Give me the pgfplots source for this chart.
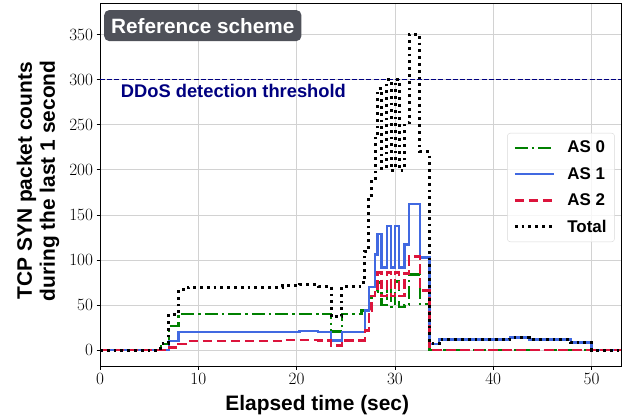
\documentclass[border=0pt]{standalone}
\usepackage{pgfplots}
\pgfplotsset{compat=1.18}
\usepackage{pgfplotstable}
\usepackage{fontspec}
\setmainfont{Liberation Sans}
\usetikzlibrary{calc}

\definecolor{asgreen}{HTML}{008000}
\definecolor{asblue}{HTML}{4169E1}
\definecolor{asred}{HTML}{DC143C}
\definecolor{thr}{HTML}{000080}
\definecolor{boxgray}{HTML}{4F5159}

% step data: time (s), AS 0, AS 1, AS 2, total
\pgfplotstableread{
t     a0   a1    a2    tot
0     0    0     0     0
6.2   7    0     0     7
7.0   27   10    3     40
8.0   40   20    7     67
9.0   40   20    10    70
18.6  40   20    11.5  71.5
20.3  40   21.5  11.5  73
22.2  40   20    11    71
23.5  21   11    5     37
24.6  40   20    11    71
26.6  44   20    11    75
26.95 44   44    22    110
27.35 58   70    44    172
27.6  60   70    60    190
27.98 65   106   66    237
28.25 75   129   86    290
28.66 50   91.5  60    201.5
29.17 76   138   86    300
29.61 48   91.5  60    199.5
30.01 76   138   86    300
30.42 48   91.5  60    199.5
30.96 50   117   85    252
31.44 84   162   104   350
32.55 51   103   66    220
33.5  0    7     0     7
34.5  0    12    0     12
41.7  0    14    0     14
43.7  0    12    0     12
47.9  0    8.5   0     8.5
50.0  0    0     0     0
53    0    0     0     0
}\data

\begin{document}
\begin{tikzpicture}
\begin{axis}[
    scale only axis, width=521bp, height=363bp,
    xmin=0, xmax=53, ymin=-17.5, ymax=385,
    xtick={0,10,...,50}, ytick={0,50,...,350},
    tick pos=left, tick align=outside, major tick length=3.5bp,
    tick style={black, line width=0.8bp},
    axis line style={line width=0.8bp},
    grid=major, grid style={gray!35, line width=0.8bp},
    tick label style={font=\fontsize{17}{17}\selectfont},
    xlabel={Elapsed time (sec)},
    ylabel={TCP SYN packet counts\\during the last 1 second},
    label style={font=\bfseries\fontsize{21}{23}\selectfont},
    xlabel style={at={(axis description cs:0.417,-0.107)}, anchor=center},
    ylabel style={at={(axis description cs:-0.119,0.51)}, anchor=center, align=center},
    legend style={at={(axis description cs:0.988,0.642)}, anchor=north east,
        draw=gray!30, rounded corners=3bp, fill=white, fill opacity=0.8, text opacity=1,
        font=\bfseries\fontsize{17}{17}\selectfont, row sep=9bp,
        inner xsep=6bp, inner ysep=6bp},
    legend cell align=left,
    legend image code/.code={\draw[#1] (0bp,0bp) -- (39bp,0bp); \path (49bp,0bp);},
]
\addplot[thr, line width=1.6bp, dash pattern=on 5bp off 2.2bp, forget plot]
    coordinates {(0,300) (53,300)};
\addplot[asgreen, line width=2.5bp, dash pattern=on 13bp off 4bp on 2.5bp off 4bp, const plot]
    table[x=t, y=a0] {\data};
\addlegendentry{AS 0}
\addplot[asblue, line width=2.5bp, const plot]
    table[x=t, y=a1] {\data};
\addlegendentry{AS 1}
\addplot[asred, line width=2.5bp, dash pattern=on 9.5bp off 4.5bp, const plot]
    table[x=t, y=a2] {\data};
\addlegendentry{AS 2}
\addplot[black, line width=3bp, dash pattern=on 2.8bp off 4bp, const plot]
    table[x=t, y=tot] {\data};
\addlegendentry{Total}

\node[anchor=west, text=thr, inner sep=0pt, font=\bfseries\fontsize{18.4}{18.4}\selectfont]
    at (axis cs:2.1,287) {DDoS detection threshold};
\node[anchor=north west, fill=boxgray, text=white, rounded corners=5bp, minimum height=31bp,
    inner xsep=7bp, font=\bfseries\fontsize{20.8}{20.8}\selectfont]
    at (axis description cs:0.0077,0.981) {Reference scheme};
\end{axis}
\pgfresetboundingbox
\path[use as bounding box] ($(current axis.south west)+(-100bp,-53bp)$) rectangle ($(current axis.north east)+(3bp,3bp)$);
\end{tikzpicture}
\end{document}
